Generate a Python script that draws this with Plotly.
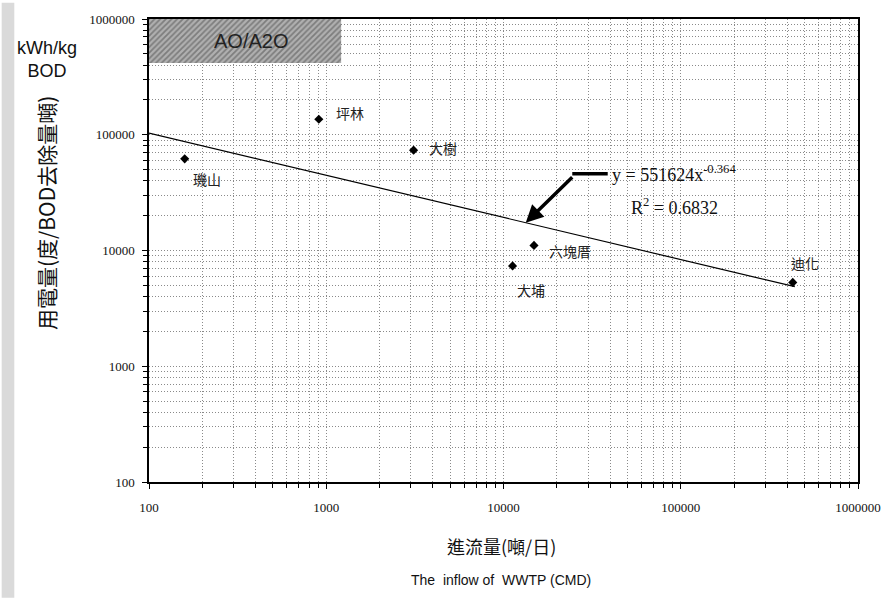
import math
import plotly.graph_objects as go

# ---- data ----
plant_names = ["璣山", "坪林", "大樹", "大埔", "六塊厝", "迪化"]
inflow_cmd = [159, 908, 3110, 11250, 14860, 428500]
energy_kwh_per_t = [61900, 136000, 73600, 7360, 11070, 5300]

trend_coef = 551624
trend_exp = -0.364
trend_r2 = 0.6832
trend_x = [100, 440000]
trend_y = [trend_coef * x ** trend_exp for x in trend_x]

x_tick_vals = [100, 1000, 10000, 100000, 1000000]
x_tick_text = ["100", "1000", "10000", "100000", "1000000"]
y_tick_vals = [100, 1000, 10000, 100000, 1000000]
y_tick_text = ["100", "1000", "10000", "100000", "1000000"]

# label offsets (pixels) for each point label
label_shift = [(22, -20), (31, 6), (29, 2), (18, -24), (36, -6), (12, 19)]

serif = "Liberation Serif"
sans = "Liberation Sans"
cjk = "Noto Sans CJK TC"

fig = go.Figure()

# hatched "AO/A2O" box (on an overlay axis in [0,1] units)
fig.add_trace(go.Scatter(
    x=[0, 0.271, 0.271, 0, 0], y=[0.905, 0.905, 1, 1, 0.905],
    xaxis="x2", yaxis="y2", mode="lines", line=dict(width=0),
    fill="toself", fillcolor="#9a9a9a",
    fillpattern=dict(shape="/", fgcolor="#4a4a4a", bgcolor="#b0b0b0", size=4, solidity=0.45),
    hoverinfo="skip", showlegend=False))

fig.add_trace(go.Scatter(
    x=trend_x, y=trend_y, mode="lines",
    line=dict(color="black", width=1.2), showlegend=False))

fig.add_trace(go.Scatter(
    x=inflow_cmd, y=energy_kwh_per_t, mode="markers",
    marker=dict(symbol="diamond", size=7, color="black"),
    showlegend=False))

for name, x, y, (dx, dy) in zip(plant_names, inflow_cmd, energy_kwh_per_t, label_shift):
    fig.add_annotation(x=math.log10(x), y=math.log10(y), xref="x", yref="y", text=name,
                       showarrow=False, xanchor="center", yanchor="middle",
                       xshift=dx, yshift=dy, font=dict(family=cjk, size=14, color="#222"))

# arrow to the trend line
ax_x = 13350
fig.add_annotation(x=math.log10(ax_x), y=math.log10(trend_coef * ax_x ** trend_exp),
                   xref="x", yref="y",
                   text="", showarrow=True, arrowhead=2, arrowsize=1.0, arrowwidth=3.5,
                   arrowcolor="black", ax=48, ay=-47)
fig.add_shape(type="line", xref="paper", yref="paper", x0=0.597, x1=0.647, y0=0.666, y1=0.666,
              line=dict(color="black", width=3.5))

fig.add_annotation(xref="paper", yref="paper", x=0.65, y=0.666, xanchor="left", yanchor="middle",
                   text="y = %dx<sup>%.3f</sup>" % (trend_coef, trend_exp), showarrow=False,
                   font=dict(family=serif, size=18, color="#111"))
fig.add_annotation(xref="paper", yref="paper", x=0.677, y=0.594, xanchor="left", yanchor="middle",
                   text="R<sup>2</sup> = %.4f" % trend_r2, showarrow=False,
                   font=dict(family=serif, size=18, color="#111"))

fig.add_annotation(xref="paper", yref="paper", x=0.1435, y=0.953, xanchor="center", yanchor="middle",
                   text="AO/A2O", showarrow=False, font=dict(family=sans, size=20, color="#222"))

# scanned edge texture on the far left
fig.add_shape(type="rect", xref="paper", yref="paper", x0=-0.2078, x1=-0.19, y0=-0.25, y1=1.035,
              line=dict(width=0), fillcolor="#dadada", layer="below")

# axis titles
fig.add_annotation(xref="paper", yref="paper", x=-0.146, y=0.582, xanchor="center", yanchor="middle",
                   text="用電量(度/BOD去除量噸)",
                   textangle=-90, showarrow=False, font=dict(family=cjk, size=21, color="#111"))
fig.add_annotation(xref="paper", yref="paper", x=-0.1437, y=0.913, xanchor="center", yanchor="middle",
                   text="kWh/kg<br>BOD",
                   showarrow=False, align="center", font=dict(family=sans, size=18, color="#111"))
fig.add_annotation(xref="paper", yref="paper", x=0.497, y=-0.139, xanchor="center", yanchor="middle",
                   text="進流量(噸/日)",
                   showarrow=False, font=dict(family=cjk, size=18, color="#111"))
fig.add_annotation(xref="paper", yref="paper", x=0.497, y=-0.212, xanchor="center", yanchor="middle",
                   text="The  inflow of  WWTP (CMD)",
                   showarrow=False, font=dict(family=sans, size=14, color="#111"))

grid_col = "#8a8a8a"
dots = "1px,2px"
common = dict(type="log", showline=True, linecolor="black", linewidth=1.5, mirror=True,
              showgrid=True, gridcolor=grid_col, griddash=dots, gridwidth=1,
              ticks="outside", ticklen=5, tickcolor="black", zeroline=False,
              tickfont=dict(family=serif, size=13, color="#111"),
              minor=dict(dtick="D1", showgrid=True, gridcolor=grid_col, griddash=dots,
                         gridwidth=1, ticks="outside", ticklen=4, tickcolor="black"))

fig.update_layout(
    width=893, height=598,
    margin=dict(l=149, r=27, t=15, b=116),
    paper_bgcolor="white", plot_bgcolor="white",
    xaxis=dict(range=[2, 6], tickvals=x_tick_vals, ticktext=x_tick_text,
               ticklabelstandoff=8, **common),
    yaxis=dict(range=[2, 6], tickvals=y_tick_vals, ticktext=y_tick_text,
               ticklabelstandoff=5, **common),
    xaxis2=dict(range=[0, 1], overlaying="x", visible=False, fixedrange=True),
    yaxis2=dict(range=[0, 1], overlaying="y", visible=False, fixedrange=True),
)

fig.write_html("out.html")
